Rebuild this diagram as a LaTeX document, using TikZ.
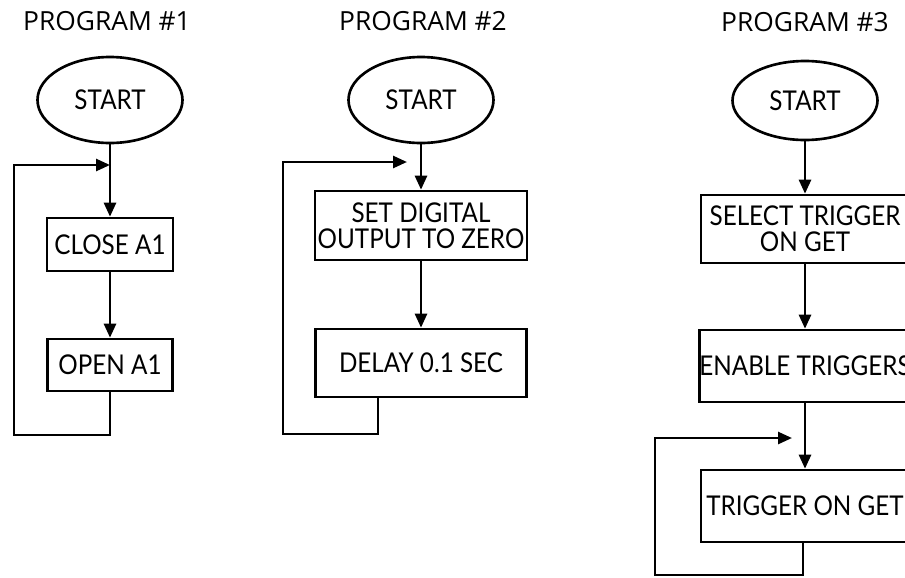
\documentclass[tikz,border=0pt]{standalone}
\usepackage{fontspec}
\setmainfont{Lato}[FakeStretch=0.89]
\newfontfamily\titlefont{Open Sans}
\usetikzlibrary{arrows.meta}
\usetikzlibrary{shapes.geometric}

\begin{document}
\begin{tikzpicture}[
  line width=1.5pt,
  flow/.style={-{Triangle[length=0.28cm,width=0.24cm]}},
  startnode/.style={draw, ellipse, inner sep=0pt, minimum width=2.9cm, minimum height=1.72cm, font=\fontsize{15.5}{15.5}\selectfont},
  stepbox/.style={draw, rectangle, inner sep=0pt, align=center, font=\fontsize{15.5}{15}\selectfont},
  progtitle/.style={font=\titlefont\fontsize{15}{15}\selectfont}
]
  \useasboundingbox (0,0) rectangle (18.1,-11.54);
  \clip (0,0) rectangle (18.1,-11.54);
  \def\xa{2.2}
  \def\xb{8.42}
  \def\xc{16.1}

  % program 1
  \node[progtitle] (title1) at (2.14,-0.42) {PROGRAM \#1};
  \node[startnode] (start1) at (\xa,-2.0) {START};
  \node[stepbox, minimum width=2.52cm, minimum height=1.06cm] (close1) at (\xa,-4.89) {CLOSE A1};
  \node[stepbox, minimum width=2.5cm, minimum height=1.04cm] (open1) at (\xa,-7.3) {OPEN A1};
  \coordinate (join1) at (\xa,-3.3);
  \coordinate (back1) at (0.28,-8.7);
  \draw [flow](start1)--(close1);
  \draw [flow](close1)--(open1);
  \draw [flow](open1.south) |- (back1) |- (join1);

  % program 2
  \node[progtitle] (title2) at (8.46,-0.42) {PROGRAM \#2};
  \node[startnode] (start2) at (\xb,-2.0) {START};
  \node[stepbox, minimum width=4.24cm, minimum height=1.38cm] (set2) at (\xb,-4.51) {SET DIGITAL\\OUTPUT TO ZERO};
  \node[stepbox, minimum width=4.22cm, minimum height=1.36cm] (delay2) at (\xb,-7.26) {DELAY 0.1 SEC};
  \coordinate (join2) at (8.14,-3.24);
  \coordinate (out2) at (7.56,0);
  \coordinate (back2) at (5.66,-8.68);
  \draw [flow](start2)--(set2);
  \draw [flow](set2)--(delay2);
  \draw [flow](delay2.south -| out2) |- (back2) |- (join2);

  % program 3
  \node[progtitle] (title3) at (16.1,-0.44) {PROGRAM \#3};
  \node[startnode, minimum height=1.58cm] (start3) at (\xc,-2.01) {START};
  \node[stepbox, minimum width=4.16cm, minimum height=1.36cm] (select3) at (\xc,-4.58) {SELECT TRIGGER\\ON GET};
  \node[stepbox, minimum width=4.16cm, minimum height=1.44cm] (enable3) at (\xc,-7.32) {ENABLE TRIGGERS};
  \node[stepbox, minimum width=4.16cm, minimum height=1.44cm] (trigger3) at (\xc,-10.12) {TRIGGER ON GET};
  \coordinate (join3) at (15.84,-8.76);
  \coordinate (out3) at (16.06,0);
  \coordinate (back3) at (13.1,-11.5);
  \draw [flow](start3)--(select3);
  \draw [flow](select3)--(enable3);
  \draw [flow](enable3)--(trigger3);
  \draw [flow](trigger3.south -| out3) |- (back3) |- (join3);

\end{tikzpicture}
\end{document}
